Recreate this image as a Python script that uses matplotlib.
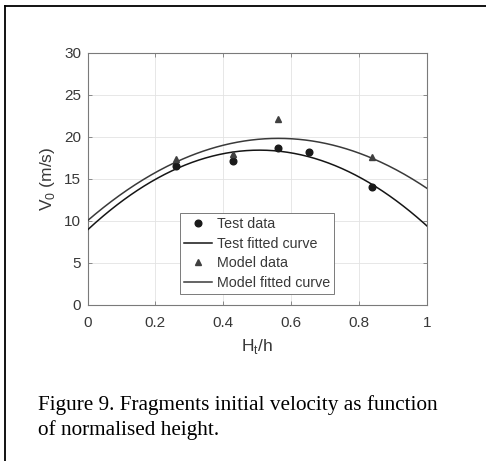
import numpy as np
import matplotlib
matplotlib.use("Agg")
import matplotlib.pyplot as plt
from matplotlib.lines import Line2D

# ---- data ----
h_test = [0.26, 0.429, 0.562, 0.653, 0.839]
v_test = [16.55, 17.1, 18.6, 18.2, 14.0]
h_model = [0.26, 0.429, 0.562, 0.839]
v_model = [17.3, 17.95, 22.05, 17.6]
# quadratic fitted-curve coefficients (highest power first)
coef_test = [-37.05, 37.52, 8.9]
coef_model = [-31.02, 34.87, 10.0]

xticks = [0, 0.2, 0.4, 0.6, 0.8, 1]
xtick_labels = ["0", "0.2", "0.4", "0.6", "0.8", "1"]
yticks = [0, 5, 10, 15, 20, 25, 30]
caption_lines = ["Figure 9. Fragments initial velocity as function",
                 "of normalised height."]

plt.rcParams['font.family'] = ['Liberation Sans', 'DejaVu Sans']
W, H = 486, 461
fig = plt.figure(figsize=(W / 100, H / 100), dpi=100)
fig.patch.set_facecolor('white')

ax = fig.add_axes([87.5 / W, 1 - 304.7 / H, (427 - 87.5) / W, (304.7 - 52.7) / H])
tc = '#383838'
xs = np.linspace(0, 1, 300)
ax.plot(xs, np.polyval(coef_test, xs), color='#151515', lw=1.1, zorder=3)
ax.plot(xs, np.polyval(coef_model, xs), color='#3a3a3a', lw=1.1, zorder=3)
ax.plot(h_test, v_test, 'o', color='#1a1a1a', ms=4.8, ls='none', zorder=4)
ax.plot(h_model, v_model, '^', color='#404040', ms=4.8, ls='none', zorder=4)

ax.set_xlim(0, 1)
ax.set_ylim(0, 30)
ax.set_xticks(xticks)
ax.set_xticklabels(xtick_labels)
ax.set_yticks(yticks)
ax.grid(True, color='#e3e3e3', lw=0.6)
ax.set_axisbelow(True)
for s in ax.spines.values():
    s.set_color('#7a7a7a')
    s.set_linewidth(0.8)
ax.tick_params(direction='in', length=3, width=0.6, color='#7a7a7a',
               labelsize=11, labelcolor=tc, top=True, right=True)
ax.tick_params(axis='x', pad=8)
ax.tick_params(axis='y', pad=4.5)
ax.set_xlabel('H$_\\mathregular{t}$/h', fontsize=12.5, color=tc, labelpad=5)
ax.set_ylabel('V$_\\mathregular{0}$ (m/s)', fontsize=12.5, color=tc, labelpad=5)

handles = [
    Line2D([], [], marker='o', color='#1a1a1a', ls='none', ms=4.8),
    Line2D([], [], color='#151515', lw=1.1),
    Line2D([], [], marker='^', color='#404040', ls='none', ms=4.8),
    Line2D([], [], color='#3a3a3a', lw=1.1),
]
labels = ['Test data', 'Test fitted curve', 'Model data', 'Model fitted curve']
leg = ax.legend(handles, labels, loc='lower left', bbox_to_anchor=(0.272, 0.0425),
                borderaxespad=0, fontsize=10.3, frameon=True, fancybox=False,
                framealpha=1, edgecolor='#7a7a7a', handlelength=2.0,
                handletextpad=0.3, labelspacing=0.4, borderpad=0.28)
leg.get_frame().set_linewidth(0.7)
for t in leg.get_texts():
    t.set_color(tc)

# border lines of the figure box
fig.add_artist(Line2D([4.5 / W, 1], [1 - 6.5 / H, 1 - 6.5 / H], color='black', lw=1.3,
                      transform=fig.transFigure))
fig.add_artist(Line2D([4.5 / W, 4.5 / W], [0, 1 - 6.5 / H], color='black', lw=1.3,
                      transform=fig.transFigure))

for i, line in enumerate(caption_lines):
    fig.text(38 / W, 1 - (410 + 25 * i) / H, line, family=['Liberation Serif'],
             fontsize=15.3, color='black', va='baseline', ha='left')

fig.savefig('out.png', dpi=100)
